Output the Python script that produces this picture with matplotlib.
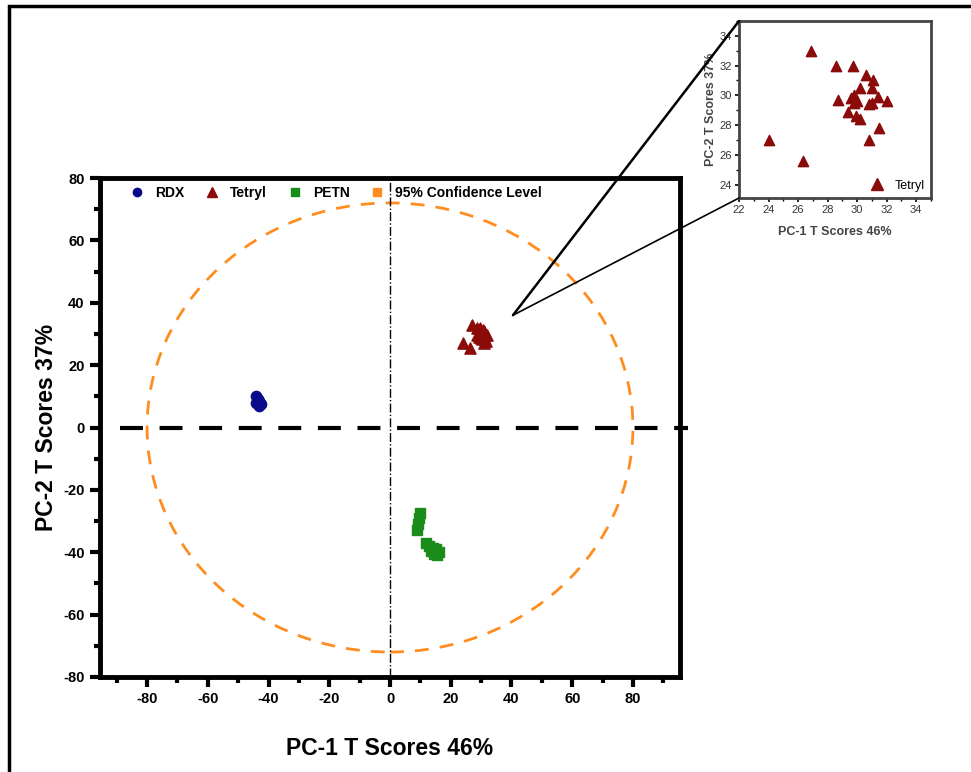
import matplotlib
matplotlib.use("Agg")
import matplotlib.pyplot as plt
from matplotlib.lines import Line2D
from matplotlib.patches import Ellipse, Rectangle, ConnectionPatch
from matplotlib.ticker import MultipleLocator

plt.rcParams["font.family"] = ["Liberation Sans", "DejaVu Sans"]
plt.rcParams["axes.unicode_minus"] = False

# PC scores
rdx_x = [-44.0, -43.5, -43.0, -42.6, -44.2, -43.2]
rdx_y = [10.0, 9.2, 8.4, 7.4, 8.0, 6.8]

tetryl_x = [26.9, 28.6, 29.7, 30.6, 31.1, 30.2, 31.0, 29.8, 28.7, 29.9, 29.8, 31.4,
            31.0, 32.0, 29.4, 29.9, 30.2, 31.5, 30.8, 24.0, 26.3, 29.6, 30.0, 30.8]
tetryl_y = [33.0, 32.0, 32.0, 31.4, 31.0, 30.5, 30.5, 30.0, 29.7, 29.7, 29.5, 29.9,
            29.5, 29.6, 28.9, 28.6, 28.4, 27.8, 27.0, 27.0, 25.6, 29.8, 29.6, 29.4]

petn_x = [10.0, 9.5, 9.2, 9.0, 12.0, 13.0, 14.0, 15.0, 16.0, 14.5, 15.5, 13.5]
petn_y = [-27.5, -29.0, -31.0, -33.0, -37.0, -38.0, -38.5, -39.0, -40.0, -40.5, -41.0, -39.5]

# 95% confidence ellipse (centre, half widths)
conf_center = (0.0, 0.0)
conf_half_x = 80.0
conf_half_y = 72.0

main_ticks = [-80, -60, -40, -20, 0, 20, 40, 60, 80]
inset_xticks = [22, 24, 26, 28, 30, 32, 34]
inset_yticks = [24, 26, 28, 30, 32, 34]

hline_x = (-89, 98)
callout_from = (40.5, 36.0)

c_rdx = "#0a0a8c"
c_tet = "#8b0a0a"
c_petn = "#1a8c1a"
c_conf = "#ff8c1e"

fig = plt.figure(figsize=(9.71, 7.72), dpi=100)

# outer frame (only the left and top edges show in the picture)
fig.patches.append(Rectangle((9 / 971, -0.1), 1.2, 0.1 + (772 - 6) / 772,
                             transform=fig.transFigure, fill=False,
                             edgecolor="black", linewidth=2.5))

ax = fig.add_axes([100 / 971, (772 - 677) / 772, 580 / 971, 499 / 772])
ax.scatter(rdx_x, rdx_y, marker="o", s=55, color=c_rdx, zorder=3)
ax.scatter(tetryl_x, tetryl_y, marker="^", s=65, color=c_tet, zorder=3)
ax.scatter(petn_x, petn_y, marker="s", s=50, color=c_petn, zorder=3)

ax.add_patch(Ellipse(conf_center, 2 * conf_half_x, 2 * conf_half_y, fill=False,
                     edgecolor=c_conf, linewidth=2, linestyle=(0, (5, 4))))
ax.plot(hline_x, [0, 0], color="black", linewidth=3, linestyle=(0, (5.5, 4)),
        clip_on=False, zorder=2)
ax.axvline(0, color="black", linewidth=1, linestyle="-.", zorder=2)

ax.set_xlim(-95.5, 95.5)
ax.set_ylim(-80, 80)
ax.set_xticks(main_ticks)
ax.set_yticks(main_ticks)
ax.xaxis.set_minor_locator(MultipleLocator(10))
ax.yaxis.set_minor_locator(MultipleLocator(10))
ax.tick_params(which="major", direction="out", length=7, width=3, labelsize=10.5, pad=4)
ax.tick_params(which="minor", direction="out", length=4, width=3)
for lab in ax.get_xticklabels() + ax.get_yticklabels():
    lab.set_fontweight("bold")
for sp in ax.spines.values():
    sp.set_linewidth(3.5)

ax.set_xlabel("PC-1 T Scores 46%", fontsize=16.5, fontweight="bold", labelpad=22)
ax.set_ylabel("PC-2 T Scores 37%", fontsize=16.5, fontweight="bold", labelpad=4)

handles = [
    Line2D([], [], marker="o", color=c_rdx, linestyle="none", markersize=6),
    Line2D([], [], marker="^", color=c_tet, linestyle="none", markersize=7),
    Line2D([], [], marker="s", color=c_petn, linestyle="none", markersize=5.5),
    Line2D([], [], marker="s", color=c_conf, linestyle="none", markersize=5.5),
]
ax.legend(handles, ["RDX", "Tetryl", "PETN", "95% Confidence Level"], ncol=4,
          loc="upper left", bbox_to_anchor=(0.03, 1.01), frameon=False,
          prop={"weight": "bold", "size": 10}, handletextpad=0.8,
          columnspacing=1.5, handlelength=1.0)

# inset zoom on Tetryl
axi = fig.add_axes([739 / 971, (772 - 198) / 772, 192 / 971, 177 / 772])
axi.scatter(tetryl_x, tetryl_y, marker="^", s=55, color=c_tet)
axi.set_xlim(22, 35)
axi.set_ylim(23.1, 35)
axi.set_xticks(inset_xticks)
axi.set_yticks(inset_yticks)
axi.xaxis.set_minor_locator(MultipleLocator(1))
axi.yaxis.set_minor_locator(MultipleLocator(1))
axi.tick_params(which="major", direction="out", length=3, width=1.2, labelsize=8,
                pad=2, labelcolor="#333333")
axi.tick_params(which="minor", direction="out", length=2, width=1)
for sp in axi.spines.values():
    sp.set_linewidth(2)
    sp.set_color("#444444")
axi.set_xlabel("PC-1 T Scores 46%", fontsize=9, fontweight="bold", color="#444444", labelpad=8)
axi.set_ylabel("PC-2 T Scores 37%", fontsize=9, fontweight="bold", color="#444444", labelpad=2)
axi.legend([Line2D([], [], marker="^", color=c_tet, linestyle="none", markersize=8)],
           ["Tetryl"], loc="lower right", frameon=False, prop={"size": 9},
           handletextpad=0.4, borderaxespad=0.1)

# callout lines from the Tetryl cluster to the inset
for corner, lw in [((22, 35), 1.8), ((22, 23.1), 1.2)]:
    cp = ConnectionPatch(xyA=callout_from, coordsA=ax.transData,
                         xyB=corner, coordsB=axi.transData,
                         color="black", linewidth=lw)
    fig.add_artist(cp)

fig.savefig("out.png", dpi=100)
